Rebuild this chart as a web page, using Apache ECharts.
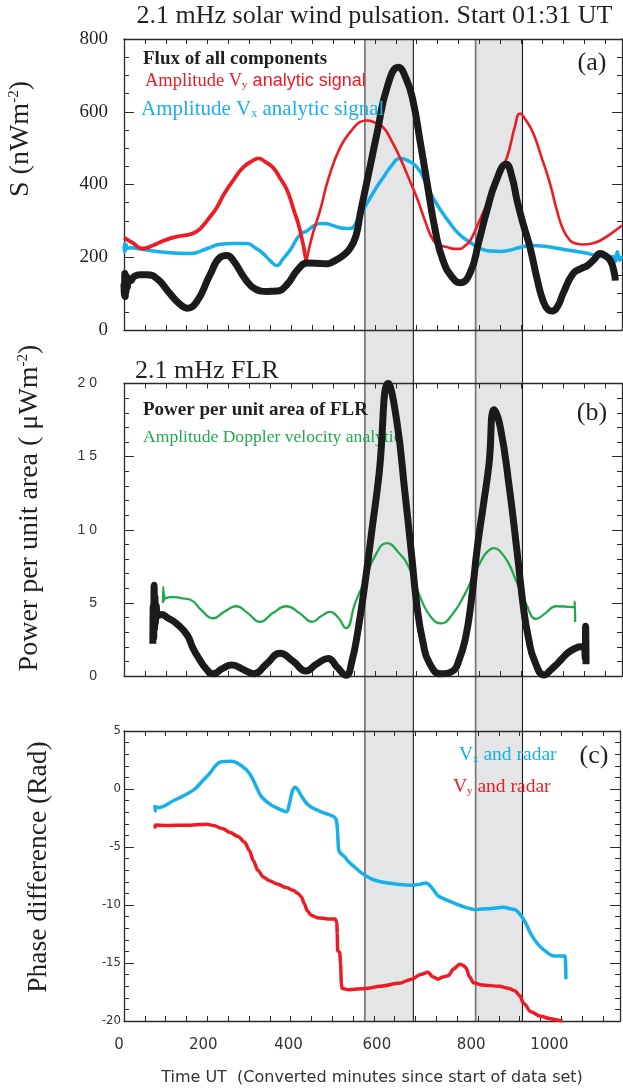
<!DOCTYPE html>
<html>
<head>
<meta charset="utf-8">
<script src="https://cdn.jsdelivr.net/npm/echarts@6/dist/echarts.min.js"></script>
<style>
  html, body { margin: 0; padding: 0; background: #ffffff; }
  #chart { width: 623px; height: 1088px; }
</style>
</head>
<body>
<div id="chart"></div>
<script>
// ---- Data: time in converted minutes since start of data set ----

// Shaded intervals [start, end] (minutes)
const BAND_SPANS = [[576, 692], [841, 953]];

// Bottom axis tick labels
const X_TICK_LABELS = [0, 200, 400, 600, 800, 1000];

// (a) Flux of all components, S (nW m^-2)
const FLUX_ALL = [
  [0,128],[1,96],[2,155],[3,92],[4,150],[5,105],[6,148],[8,118],[10,140],[14,135],[25,148],
  [38,152],[55,152],[80,140],[110,100],[130,75],[151,60],[175,80],[205,150],[230,200],[246,205],
  [262,190],[290,140],[315,112],[342,106],[366,107],[390,125],[415,165],[438,184],[469,183],
  [486,182],[500,188],[524,205],[541,225],[555,260],[565,320],[585,430],[605,540],[630,670],
  [656,722],[675,690],[691,631],[708,520],[725,403],[745,270],[763,191],[785,145],[804,130],
  [828,158],[848,240],[868,329],[890,410],[914,456],[928,420],[940,356],[955,290],[971,227],
  [988,140],[1002,81],[1015,55],[1024,52],[1037,65],[1050,100],[1074,155],[1095,170],[1108,177],
  [1125,195],[1139,210],[1150,205],[1163,191],[1172,160],[1175,136]
];

// (a) Amplitude Vy analytic signal, before and after the cusp near 435 min
const AMP_VY_EARLY = [
  [0,254],[20,240],[45,224],[70,233],[86,241],[110,252],[127,257],[158,263],[175,272],[189,287],
  [205,310],[222,337],[240,375],[261,411],[285,447],[309,466],[321,472],[338,462],[356,447],
  [373,418],[390,384],[406,330],[421,274],[436,188]
];
const AMP_VY_LATE = [
  [436,188],[450,258],[469,329],[490,420],[517,502],[545,550],[565,572],[581,576],[600,570],
  [620,557],[640,520],[660,474],[680,420],[700,365],[720,300],[740,246],[756,233],[772,228],
  [790,223],[804,223],[816,232],[828,246],[848,295],[868,347],[892,415],[916,475],[935,560],
  [947,595],[962,575],[979,540],[1000,470],[1019,402],[1035,330],[1051,274],[1067,246],
  [1080,238],[1099,235],[1120,238],[1139,246],[1165,265],[1191,287]
];

// (a) Amplitude Vx analytic signal
const AMP_VX = [
  [0,232],[1,215],[2,238],[3,218],[5,235],[8,224],[15,226],[45,221],[103,213],[158,210],
  [199,224],[230,236],[261,238],[294,238],[315,225],[333,210],[350,190],[366,177],[380,195],
  [397,219],[421,262],[438,273],[455,287],[469,293],[485,292],[500,287],[524,280],[541,279],
  [560,305],[581,348],[600,385],[620,419],[640,452],[660,472],[680,465],[701,447],[720,410],
  [739,364],[760,325],[780,293],[800,265],[821,246],[840,232],[859,221],[880,217],[900,216],
  [925,220],[947,227],[978,232],[1000,231],[1026,227],[1060,220],[1098,213],[1130,205],
  [1156,199],[1170,202],[1175,188],[1180,215],[1185,192],[1191,203]
];

// (b) Power per unit area of FLR (uW m^-2)
const FLR_POWER = [
  [69,2.2],[70,4.8],[71,2.6],[72,6.2],[73,3.2],[74,5.4],[75,3.6],[77,4.8],[80,4.1],[90,4.2],
  [103,4.0],[125,3.6],[151,2.8],[165,1.9],[179,1.2],[196,0.5],[213,0.15],[235,0.5],[258,0.75],
  [285,0.45],[311,0.15],[340,0.8],[373,1.55],[405,1.0],[435,0.35],[460,0.8],[488,1.2],
  [510,0.6],[531,0.05],[545,1.0],[560,3.2],[577,6.5],[593,10.0],[610,13.8],[632,20.0],
  [652,17.5],[672,12.5],[687,8.5],[701,4.7],[715,2.3],[730,0.9],[758,0.15],[787,0.35],
  [800,1.0],[816,2.5],[830,5.0],[845,8.8],[860,11.8],[873,14.5],[885,18.2],[900,17.0],
  [921,13.0],[940,8.5],[957,4.3],[968,2.5],[981,1.1],[1005,0.07],[1020,0.4],[1033,0.75],
  [1048,1.2],[1062,1.6],[1080,1.9],[1091,2.0],[1100,2.0],[1103,1.2],[1104,3.4],[1105,0.8]
];

// (b) Amplitude Doppler velocity analytic signal
const DOPPLER_AMP = [
  [93,5.0],[94,6.1],[95,5.1],[96,5.6],[98,5.3],[110,5.4],[122,5.4],[140,5.3],[160,5.2],
  [185,4.5],[213,3.95],[240,4.4],[268,4.77],[296,4.3],[325,3.7],[356,4.3],[388,4.77],
  [420,4.3],[450,3.7],[472,4.1],[493,4.38],[512,4.0],[531,3.27],[553,5.0],[577,6.6],
  [600,8.2],[629,9.08],[655,8.5],[682,7.4],[711,5.2],[735,4.0],[758,3.6],[785,4.2],
  [816,5.65],[845,7.4],[878,8.7],[886,8.75],[897,8.6],[918,7.8],[938,6.5],[962,4.9],
  [986,3.9],[1008,4.3],[1033,4.77],[1055,4.75],[1077,4.7],[1078,5.1],[1079,3.7]
];

// (c) Phase difference, Vx and radar (rad)
const PHASE_VX = [
  [74,-1.4],[75,-1.9],[76,-1.5],[80,-1.6],[122,-0.95],[150,-0.45],[170,0.0],[190,0.75],
  [207,1.4],[222,2.1],[234,2.35],[258,2.4],[282,2.0],[301,1.36],[315,0.4],[330,-0.66],
  [350,-1.3],[368,-1.65],[390,-1.96],[397,-1.3],[404,-0.2],[411,0.15],[418,-0.1],[426,-0.6],
  [440,-1.3],[455,-1.67],[480,-2.05],[502,-2.35],[509,-2.6],[512,-3.3],[514,-4.5],[516,-5.3],
  [531,-5.9],[540,-6.3],[556,-6.8],[573,-7.3],[594,-7.75],[616,-8.0],[653,-8.2],[691,-8.3],
  [712,-8.2],[725,-8.1],[739,-8.5],[750,-9.05],[758,-9.3],[797,-9.9],[820,-10.2],[844,-10.4],
  [860,-10.35],[882,-10.3],[911,-10.2],[930,-10.35],[939,-10.4],[953,-10.9],[965,-11.6],
  [977,-12.5],[992,-13.3],[1006,-13.8],[1034,-14.4],[1058,-14.4],[1060,-14.8],[1061,-16.4]
];

// (c) Phase difference, Vy and radar (rad)
const PHASE_VY = [
  [74,-3.1],[75,-3.3],[76,-3.1],[100,-3.15],[150,-3.12],[198,-3.03],[215,-3.15],[236,-3.4],
  [255,-3.75],[274,-4.1],[290,-4.6],[301,-5.3],[311,-6.2],[321,-7.0],[335,-7.6],[349,-7.9],
  [368,-8.2],[390,-8.5],[407,-8.75],[418,-9.0],[426,-9.3],[433,-9.9],[440,-10.5],[450,-10.9],
  [464,-11.1],[490,-11.2],[507,-11.2],[511,-11.5],[512,-12.5],[513,-13.95],[518,-14.1],
  [520,-15.0],[522,-16.8],[524,-17.2],[540,-17.3],[580,-17.2],[616,-17.0],[660,-16.75],
  [691,-16.4],[712,-16.0],[730,-15.8],[742,-16.2],[754,-16.4],[766,-16.2],[778,-16.1],
  [792,-15.5],[806,-15.1],[814,-15.2],[821,-15.4],[830,-16.2],[839,-16.7],[860,-16.9],
  [901,-17.0],[925,-17.2],[939,-17.4],[950,-17.8],[960,-18.5],[977,-19.2],[1000,-19.6],
  [1024,-19.8],[1045,-19.95],[1053,-20.0]
];

// ---- Styling ----
const X_MAX = 1191;
const SERIF = '"Liberation Serif", "Times New Roman", serif';
const SANS = '"Liberation Sans", Arial, sans-serif';
const NARROW = '"Liberation Sans Narrow", "DejaVu Sans Condensed", "Liberation Sans", sans-serif';
const WIDE = '"DejaVu Sans", Verdana, sans-serif';
const INK = '#231f20';
const AXIS = '#2a2a2a';
const RED = '#ed1c24';
const BLUE = '#17b0e8';
const GREEN = '#22a94c';
const BLACK = '#1c1a1a';
const BAND_FILL = '#e4e5e7';

// horizontal nudges for the bottom tick labels (px)
const X_LABEL_SHIFT = { 0: -5, 200: -4, 400: -2, 600: 3, 800: 14, 1000: 9 };

const GRID_LEFT = 124, GRID_WIDTH = 498;
const grids = [
  { left: GRID_LEFT, width: GRID_WIDTH, top: 39, height: 291 },     // (a)
  { left: GRID_LEFT, width: GRID_WIDTH, top: 383.5, height: 292.5 }, // (b)
  { left: GRID_LEFT, width: GRID_WIDTH, top: 731, height: 290 },    // (c)
  { left: GRID_LEFT, width: GRID_WIDTH, top: 39, height: 982 }      // shaded intervals
];

const axisLine = { show: true, onZero: false, lineStyle: { color: AXIS, width: 1.3 } };

function xAxis(gridIndex, position, withLabels) {
  const rich = {};
  X_TICK_LABELS.forEach(v => {
    const d = X_LABEL_SHIFT[v] || 0;
    rich['t' + v] = {
      fontFamily: WIDE, fontSize: 15, color: '#333',
      padding: d >= 0 ? [0, 0, 0, 2 * d] : [0, -2 * d, 0, 0]
    };
  });
  return {
    type: 'value', gridIndex, position, min: 0, max: X_MAX, interval: 50,
    axisLine,
    axisTick: { show: true, inside: true, length: 5, lineStyle: { color: AXIS, width: 1 } },
    splitLine: { show: false },
    axisLabel: withLabels ? {
      show: true, margin: 17, rich,
      formatter: v => X_TICK_LABELS.includes(v) ? '{t' + v + '|' + v + '}' : ''
    } : { show: false }
  };
}

function yAxis(gridIndex, position, min, max, interval, minorSplit, label) {
  return {
    type: 'value', gridIndex, position, min, max, interval,
    axisLine,
    axisTick: { show: true, inside: true, length: 10, lineStyle: { color: AXIS, width: 1 } },
    minorTick: { show: true, splitNumber: minorSplit, length: 5, lineStyle: { color: AXIS, width: 1 } },
    splitLine: { show: false }, minorSplitLine: { show: false },
    axisLabel: label ? Object.assign({ show: true }, label) : { show: false }
  };
}

function curve(data, xi, yi, color, width, smooth, monotone) {
  const s = {
    type: 'line', data, xAxisIndex: xi, yAxisIndex: yi,
    showSymbol: false, symbol: 'none', smooth,
    lineStyle: { color, width, join: 'round', cap: 'butt' },
    silent: true, z: 3
  };
  if (monotone) s.smoothMonotone = 'x';
  return s;
}

const option = {
  animation: false,
  backgroundColor: '#ffffff',
  grid: grids,
  xAxis: [
    xAxis(0, 'bottom', false), xAxis(0, 'top', false),
    xAxis(1, 'bottom', false), xAxis(1, 'top', false),
    Object.assign(xAxis(2, 'bottom', true), {
      name: 'Time UT  (Converted minutes since start of data set)',
      nameLocation: 'middle', nameGap: 49,
      nameTextStyle: { fontFamily: WIDE, fontSize: 16, color: '#333' }
    }),
    xAxis(2, 'top', false),
    { type: 'value', gridIndex: 3, min: 0, max: X_MAX, show: false }
  ],
  yAxis: [
    yAxis(0, 'left', 0, 800, 200, 4, { fontFamily: SERIF, fontSize: 19, color: INK, margin: 16 }),
    yAxis(0, 'right', 0, 800, 200, 4, null),
    yAxis(1, 'left', 0, 20, 5, 5, {
      fontFamily: SANS, fontSize: 14, color: '#333', margin: 27,
      formatter: v => v >= 10 ? String(v).split('').join(' ') : String(v)
    }),
    yAxis(1, 'right', 0, 20, 5, 5, null),
    yAxis(2, 'left', -20, 5, 5, 5, { fontFamily: NARROW, fontSize: 13, color: '#333', margin: 3 }),
    yAxis(2, 'right', -20, 5, 5, 5, null),
    { type: 'value', gridIndex: 3, min: 0, max: 1, show: false }
  ],
  series: [
    {
      type: 'custom', xAxisIndex: 6, yAxisIndex: 6, z: -1, silent: true,
      data: BAND_SPANS,
      encode: { x: [0, 1] },
      renderItem: (params, api) => {
        const a = api.coord([api.value(0), 1]);
        const b = api.coord([api.value(1), 0]);
        return {
          type: 'group',
          children: [
            { type: 'rect', shape: { x: a[0], y: a[1], width: b[0] - a[0], height: b[1] - a[1] },
              style: { fill: BAND_FILL } },
            { type: 'line', shape: { x1: a[0], y1: a[1], x2: a[0], y2: b[1] },
              style: { stroke: '#7b7b7b', lineWidth: 1.8 } },
            { type: 'line', shape: { x1: b[0], y1: a[1], x2: b[0], y2: b[1] },
              style: { stroke: '#1a1a1a', lineWidth: 1.1 } }
          ]
        };
      }
    },
    // (a)
    curve(AMP_VX, 0, 0, BLUE, 3.5, 0.5, false),
    curve(AMP_VY_EARLY, 0, 0, RED, 3.8, 0.5, false),
    curve(AMP_VY_LATE, 0, 0, RED, 2.6, 0.5, false),
    curve(FLUX_ALL, 0, 0, BLACK, 7, 0.5, false),
    // (b)
    curve(DOPPLER_AMP, 2, 2, GREEN, 2.3, 0.5, false),
    curve(FLR_POWER, 2, 2, BLACK, 7, 0.5, false),
    // (c)
    curve(PHASE_VX, 4, 4, BLUE, 3.5, 0.4, false),
    curve(PHASE_VY, 4, 4, RED, 3.5, 0.3, true)
  ],
  graphic: [
    // panel titles
    { type: 'text', x: 374.5, y: 16, z: 10, style: {
      text: '2.1 mHz solar wind pulsation. Start 01:31 UT', fontFamily: SERIF, fontSize: 26,
      fill: INK, align: 'center', verticalAlign: 'middle' } },
    { type: 'text', x: 135, y: 371, z: 10, style: {
      text: '2.1 mHz FLR', fontFamily: SERIF, fontSize: 26,
      fill: INK, align: 'left', verticalAlign: 'middle' } },

    // (a) key
    { type: 'text', x: 143, y: 59, z: 10, style: {
      text: 'Flux of all components', fontFamily: SERIF, fontWeight: 'bold', fontSize: 19,
      fill: INK, align: 'left', verticalAlign: 'middle' } },
    { type: 'text', x: 145, y: 81, z: 10, style: {
      text: 'Amplitude V{sub|y}{ar| analytic signal}', fontFamily: SERIF, fontSize: 18.5,
      fill: RED, align: 'left', verticalAlign: 'middle',
      rich: {
        sub: { fontFamily: SERIF, fontSize: 11, fill: RED, verticalAlign: 'bottom' },
        ar: { fontFamily: SANS, fontSize: 18, fill: RED }
      } } },
    { type: 'text', x: 141, y: 109, z: 10, style: {
      text: 'Amplitude V{sub|x} analytic signal', fontFamily: SERIF, fontSize: 21,
      fill: BLUE, align: 'left', verticalAlign: 'middle',
      rich: { sub: { fontFamily: SERIF, fontSize: 12, fill: BLUE, verticalAlign: 'bottom' } } } },
    { type: 'text', x: 592, y: 63, z: 10, style: {
      text: '(a)', fontFamily: SERIF, fontSize: 26, fill: INK, align: 'center', verticalAlign: 'middle' } },

    // (b) key
    { type: 'text', x: 143, y: 410, z: 10, style: {
      text: 'Power per unit area of FLR', fontFamily: SERIF, fontWeight: 'bold', fontSize: 19,
      fill: INK, align: 'left', verticalAlign: 'middle' } },
    { type: 'text', x: 143, y: 437, z: 1, style: {
      text: 'Amplitude Doppler velocity analytic', fontFamily: SERIF, fontSize: 17.6,
      fill: GREEN, align: 'left', verticalAlign: 'middle' } },
    { type: 'text', x: 592, y: 413, z: 10, style: {
      text: '(b)', fontFamily: SERIF, fontSize: 26, fill: INK, align: 'center', verticalAlign: 'middle' } },

    // (c) key
    { type: 'text', x: 459, y: 755, z: 10, style: {
      text: 'V{sub|x} and radar', fontFamily: SERIF, fontSize: 19.5,
      fill: BLUE, align: 'left', verticalAlign: 'middle',
      rich: { sub: { fontFamily: SERIF, fontSize: 11, fill: BLUE, verticalAlign: 'bottom' } } } },
    { type: 'text', x: 453, y: 786.5, z: 10, style: {
      text: 'V{sub|y} and radar', fontFamily: SERIF, fontSize: 19.5,
      fill: RED, align: 'left', verticalAlign: 'middle',
      rich: { sub: { fontFamily: SERIF, fontSize: 11, fill: RED, verticalAlign: 'bottom' } } } },
    { type: 'text', x: 594, y: 756, z: 10, style: {
      text: '(c)', fontFamily: SERIF, fontSize: 26, fill: INK, align: 'center', verticalAlign: 'middle' } },

    // vertical axis titles
    { type: 'text', x: 21, y: 139, rotation: Math.PI / 2, z: 10, style: {
      text: 'S (nWm{sup|-2})', fontFamily: SERIF, fontSize: 28,
      fill: INK, align: 'center', verticalAlign: 'middle',
      rich: { sup: { fontFamily: SERIF, fontSize: 15, fill: INK, verticalAlign: 'top' } } } },
    { type: 'text', x: 30, y: 508, rotation: Math.PI / 2, z: 10, style: {
      text: 'Power per unit area ( \u03bcWm{sup|-2})', fontFamily: SERIF, fontSize: 28,
      fill: INK, align: 'center', verticalAlign: 'middle',
      rich: { sup: { fontFamily: SERIF, fontSize: 15, fill: INK, verticalAlign: 'top' } } } },
    { type: 'text', x: 39, y: 867, rotation: Math.PI / 2, z: 10, style: {
      text: 'Phase difference (Rad)', fontFamily: SERIF, fontSize: 27.5,
      fill: INK, align: 'center', verticalAlign: 'middle' } }
  ]
};

const chart = echarts.init(document.getElementById('chart'), null, { renderer: 'canvas' });
chart.setOption(option);
</script>
</body>
</html>
